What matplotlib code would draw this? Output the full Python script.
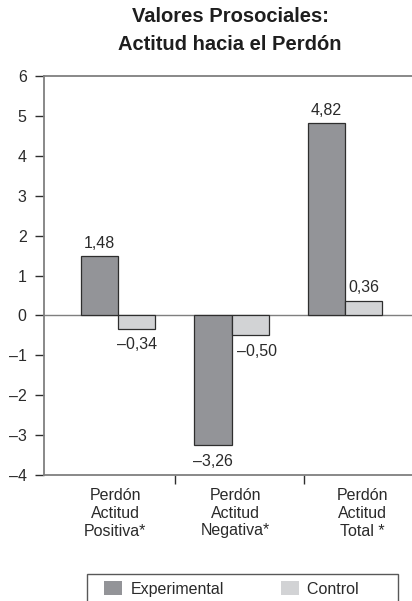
import matplotlib
matplotlib.use("Agg")
import matplotlib.pyplot as plt
from matplotlib.patches import Patch, Rectangle
from matplotlib.legend_handler import HandlerPatch

plt.rcParams['font.family'] = ['Liberation Sans', 'DejaVu Sans']

# Data
categories = ["Perdón\nActitud\nPositiva*", "Perdón\nActitud\nNegativa*", "Perdón\nActitud\nTotal *"]
experimental = [1.48, -3.26, 4.82]
control = [-0.34, -0.50, 0.36]
series_names = ["Experimental", "Control"]
yticks = [-4, -3, -2, -1, 0, 1, 2, 3, 4, 5, 6]

# Layout
centers = [0.0, 1.0, 2.0]
bar_w = 0.33
boundaries = [0.502, 1.639]
label_pos = [-0.026, 1.031, 2.150]

c_exp = "#939498"
c_ctl = "#d2d3d5"
edge = "#2e2e2e"
axis_c = "#7f7f7f"
text_c = "#2a2a2a"
fs = 11.5

def fmt(v):
    s = f"{abs(v):.2f}".replace(".", ",")
    return ("–" + s) if v < 0 else s


class SquareHandler(HandlerPatch):
    """Legend key drawn as a small block sitting at the right of the handle box."""
    def create_artists(self, legend, orig_handle, xdescent, ydescent,
                       width, height, fontsize, trans):
        w = height * 1.3
        p = Rectangle((width - w - xdescent, -ydescent), w, height,
                      facecolor=orig_handle.get_facecolor(), edgecolor="none",
                      transform=trans)
        return [p]


fig = plt.figure(figsize=(4.12, 6.01), dpi=100)
ax = fig.add_axes([44/412, 126/601, 389/412, 399/601])

xe = [c - bar_w/2 for c in centers]
xc = [c + bar_w/2 for c in centers]
ax.bar(xe, experimental, width=bar_w, color=c_exp, edgecolor=edge, linewidth=0.9, zorder=3)
ax.bar(xc, control, width=bar_w, color=c_ctl, edgecolor=edge, linewidth=0.9, zorder=3)

for x, v in zip(xe, experimental):
    if v >= 0:
        ax.annotate(fmt(v), (x, v), xytext=(0, 4), textcoords="offset points",
                    ha="center", va="bottom", fontsize=fs, color=text_c)
    else:
        ax.annotate(fmt(v), (x, v), xytext=(0, -6), textcoords="offset points",
                    ha="center", va="top", fontsize=fs, color=text_c)

for x, v, e in zip(xc, control, experimental):
    if v >= 0:
        ax.annotate(fmt(v), (x, v), xytext=(0, 4), textcoords="offset points",
                    ha="center", va="bottom", fontsize=fs, color=text_c)
    else:
        # nudge right when the neighbouring bar reaches further down
        dx = 5 if e < v else 0
        ax.annotate(fmt(v), (x, v), xytext=(dx, -6), textcoords="offset points",
                    ha="center", va="top", fontsize=fs, color=text_c)

ax.axhline(0, color=axis_c, linewidth=1.0, zorder=2)

ax.set_xlim(-0.652, 2.775)
ax.set_ylim(-4, 6)
ax.set_yticks(yticks)
ax.set_yticklabels([("–" + str(abs(t))) if t < 0 else str(t) for t in yticks])

ax.set_xticks(boundaries)
ax.set_xticklabels([])
ax.set_xticks(label_pos, minor=True)
ax.set_xticklabels(categories, minor=True, fontsize=fs, color=text_c, linespacing=1.25)
ax.tick_params(axis="x", which="minor", length=0, pad=9)
ax.tick_params(axis="x", which="major", direction="out", length=6.5, width=1.0, color="#2e2e2e")
ax.tick_params(axis="y", direction="out", length=6.5, width=1.0, color="#2e2e2e",
               labelsize=fs, labelcolor=text_c, pad=6)

for side in ("left", "bottom", "top"):
    ax.spines[side].set_color(axis_c)
    ax.spines[side].set_linewidth(1.3)
ax.spines["right"].set_visible(False)

fig.text(230/412, 1 - 17/601, "Valores Prosociales:", ha="center", va="center",
         fontsize=14.5, fontweight="bold", color="#1e1e1e")
fig.text(230/412, 1 - 45/601, "Actitud hacia el Perdón", ha="center", va="center",
         fontsize=14.5, fontweight="bold", color="#1e1e1e")

handles = [Patch(facecolor=c_exp, edgecolor="none"), Patch(facecolor=c_ctl, edgecolor="none")]
leg = fig.legend(handles, [series_names[0], series_names[1] + "       "], ncol=2, loc="upper left",
                 bbox_to_anchor=(87/412, 27/601), frameon=True, fancybox=False,
                 edgecolor="#2e2e2e", fontsize=fs, handlelength=1.75, handleheight=0.95,
                 columnspacing=2.9, borderpad=0.45, handletextpad=0.55, borderaxespad=0,
                 handler_map={Patch: SquareHandler()})
leg.get_frame().set_linewidth(1.0)
for t in leg.get_texts():
    t.set_color(text_c)

fig.savefig("out.png", dpi=100)
